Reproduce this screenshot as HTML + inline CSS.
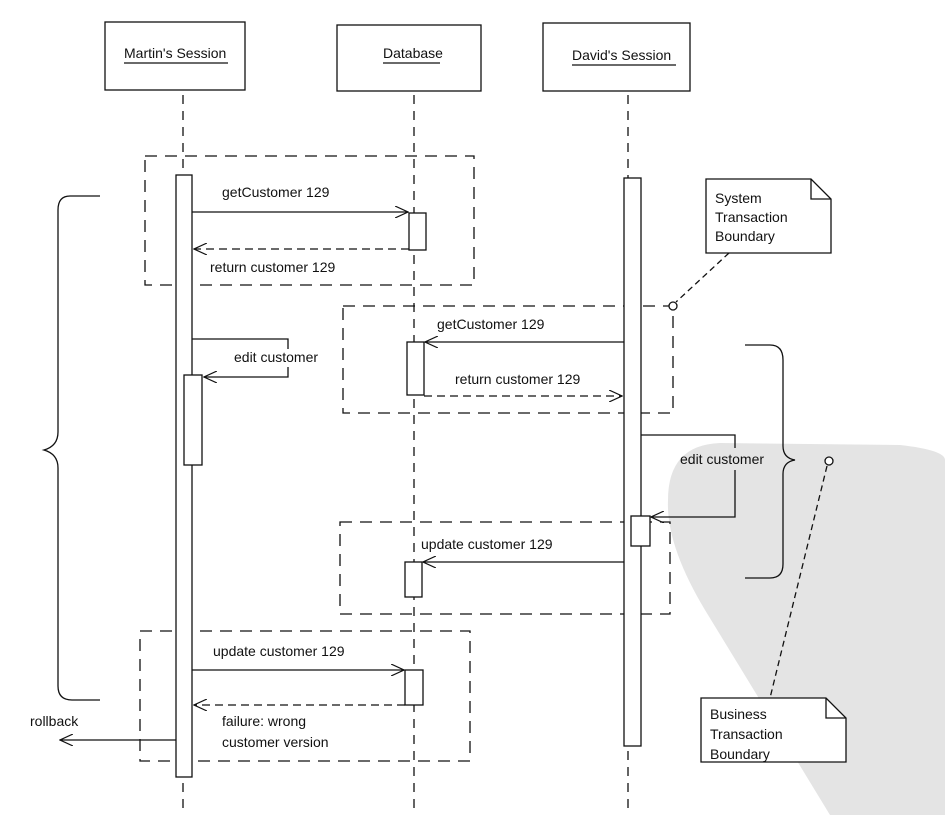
<!DOCTYPE html>
<html><head><meta charset="utf-8"><style>
body{margin:0;background:#fff}
svg{display:block}
text{font-family:"Liberation Sans",sans-serif;font-size:14px;fill:#111}
</style></head><body>
<svg width="945" height="815" viewBox="0 0 945 815" xmlns="http://www.w3.org/2000/svg">
<defs>
<marker id="a" viewBox="0 0 14 12" refX="13" refY="6" markerWidth="14" markerHeight="12" markerUnits="userSpaceOnUse" orient="auto"><path d="M0,0 L13,6 L0,12" fill="none" stroke="#111" stroke-width="1.2"/></marker>
</defs>
<!-- watermark blob -->
<path d="M668,500 Q668,445 720,443 L900,445 Q945,450 945,460 L945,815 L830,815 Q760,700 705,610 Q666,545 668,500Z" fill="#e4e4e4"/>
<g stroke="#111" stroke-width="1.3" fill="none">
<rect x="105" y="22" width="140" height="68" fill="#fff"/>
<rect x="337" y="25" width="144" height="66" fill="#fff"/>
<rect x="543" y="23" width="147" height="68" fill="#fff"/>
<g stroke-dasharray="9,7">
<line x1="183" y1="95" x2="183" y2="815"/>
<line x1="414" y1="95" x2="414" y2="815"/>
<line x1="628" y1="95" x2="628" y2="815"/>
</g>
<g stroke-dasharray="12,8">
<rect x="145" y="156" width="329" height="129"/>
<rect x="343" y="306" width="330" height="107"/>
<rect x="340" y="522" width="330" height="92"/>
<rect x="140" y="631" width="330" height="130"/>
</g>
<rect x="176" y="175" width="16" height="602" fill="#fff"/>
<rect x="624" y="178" width="17" height="568" fill="#fff"/>
<rect x="409" y="213" width="17" height="37" fill="#fff"/>
<rect x="407" y="342" width="17" height="53" fill="#fff"/>
<rect x="405" y="562" width="17" height="35" fill="#fff"/>
<rect x="405" y="670" width="18" height="35" fill="#fff"/>
<rect x="184" y="375" width="18" height="90" fill="#fff"/>
<rect x="631" y="516" width="19" height="30" fill="#fff"/>
<line x1="192" y1="212" x2="408" y2="212" marker-end="url(#a)"/>
<line x1="409" y1="249" x2="194" y2="249" stroke-dasharray="8,5" marker-end="url(#a)"/>
<line x1="624" y1="342" x2="425" y2="342" marker-end="url(#a)"/>
<line x1="424" y1="396" x2="622" y2="396" stroke-dasharray="8,5" marker-end="url(#a)"/>
<path d="M192,339 H288 V349 M288,367 V377 H204" marker-end="url(#a)"/>
<path d="M641,435 H735 V448 M735,470 V517 H651" marker-end="url(#a)"/>
<line x1="624" y1="562" x2="423" y2="562" marker-end="url(#a)"/>
<line x1="192" y1="670" x2="404" y2="670" marker-end="url(#a)"/>
<line x1="405" y1="705" x2="194" y2="705" stroke-dasharray="8,5" marker-end="url(#a)"/>
<line x1="176" y1="740" x2="60" y2="740" marker-end="url(#a)"/>
<path d="M100,196 H70 Q58,196 58,210 V432 Q58,446 44,450 Q58,454 58,468 V686 Q58,700 72,700 H100"/>
<path d="M745,345 H770 Q783,345 783,360 V446 Q783,458 795,460 Q783,462 783,474 V564 Q783,578 770,578 H745"/>
<path d="M706,179 H811 L831,199 V253 H706 Z" fill="#fff"/>
<path d="M811,179 V199 H831"/>
<path d="M701,698 H826 L846,718 V762 H701 Z" fill="#fff"/>
<path d="M826,698 V718 H846"/>
<line x1="729" y1="253" x2="676" y2="302" stroke-dasharray="6,4"/>
<circle cx="673" cy="306" r="4" fill="#fff"/>
<line x1="827" y1="466" x2="770" y2="698" stroke-dasharray="6,4"/>
<circle cx="829" cy="461" r="4" fill="#fff"/>
<line x1="124" y1="63" x2="228" y2="63"/>
<line x1="383" y1="63" x2="440" y2="63"/>
<line x1="572" y1="65" x2="676" y2="65"/>
</g>
<text x="124" y="58">Martin's Session</text>
<text x="383" y="58">Database</text>
<text x="572" y="60">David's Session</text>
<text x="222" y="197">getCustomer 129</text>
<text x="210" y="272">return customer 129</text>
<text x="437" y="329">getCustomer 129</text>
<text x="455" y="384">return customer 129</text>
<text x="234" y="362">edit customer</text>
<text x="680" y="464">edit customer</text>
<text x="421" y="549">update customer 129</text>
<text x="213" y="656">update customer 129</text>
<text x="222" y="726">failure:  wrong</text>
<text x="222" y="747">customer version</text>
<text x="30" y="726">rollback</text>
<text x="715" y="203">System</text>
<text x="715" y="222">Transaction</text>
<text x="715" y="241">Boundary</text>
<text x="710" y="719">Business</text>
<text x="710" y="739">Transaction</text>
<text x="710" y="759">Boundary</text>
</svg>
</body></html>
